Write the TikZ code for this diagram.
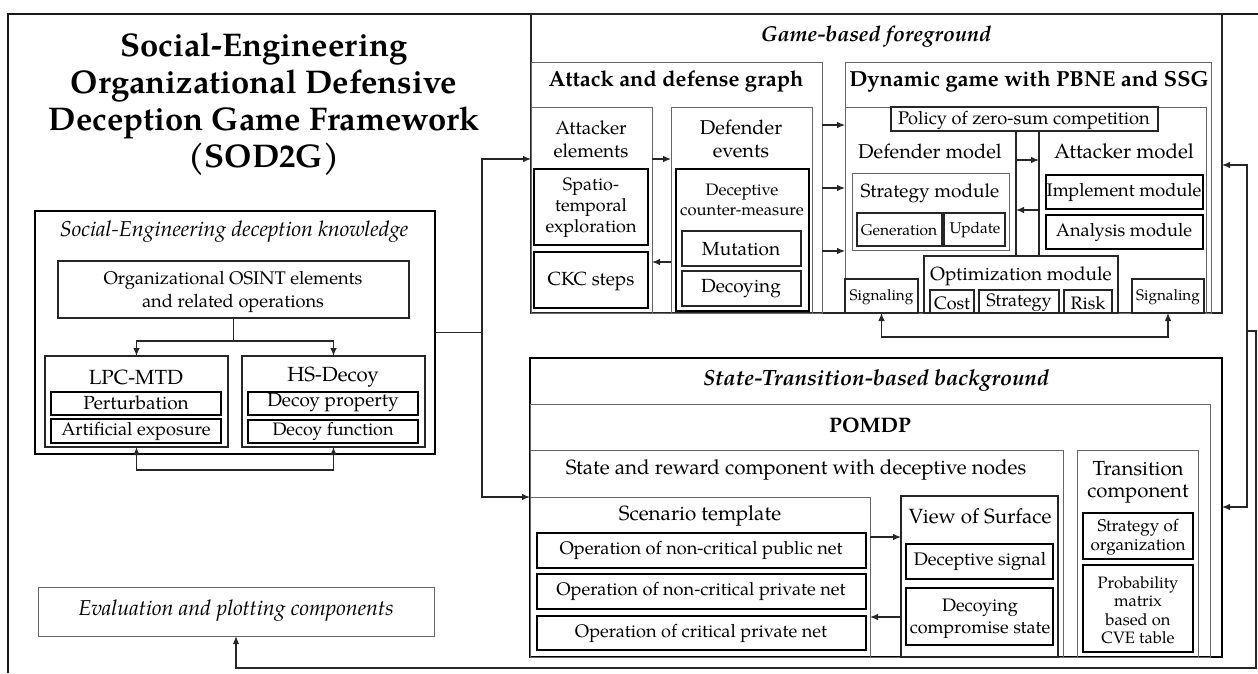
\documentclass[tikz,border=0pt]{standalone}
\usepackage{fontspec}
\IfFontExistsTF{TeX Gyre Pagella}{\setmainfont{TeX Gyre Pagella}}{\setmainfont{Liberation Serif}}
\usetikzlibrary{arrows.meta}

% font size helper
\newcommand\fsz[2]{\fontsize{#1}{#2}\selectfont}
% box from corner (x1,y1) to corner (x2,y2), y measured downwards
\newcommand\bx[6][bmid]{\node[#1, minimum width={#5-#3}, minimum height={#6-#4}] (#2) at (#3,#4) {};}

\tikzset{
  bxbase/.style={rectangle, inner sep=0pt, outer sep=0pt, anchor=north west},
  bthin/.style={bxbase, draw=black!60, line width=0.9pt},
  bmid/.style={bxbase, draw=black!85, line width=1.3pt},
  bthick/.style={bxbase, draw=black, line width=1.8pt},
  bopen/.style={bxbase},
  lbl/.style={inner sep=0pt, align=center, font=\fsz{19}{23}},
  wire/.style={draw=black!85, line width=1.1pt},
  arr/.style={wire, -{Latex[length=8pt,width=6.5pt]}},
  arrb/.style={wire, {Latex[length=8pt,width=6.5pt]}-{Latex[length=8pt,width=6.5pt]}},
}

\begin{document}
\begin{tikzpicture}[x=1pt,y=-1pt]
\useasboundingbox (0,0) rectangle (1258,673);

% outer frame (open to the right and bottom)
\coordinate (fBL) at (8,673);
\coordinate (fTL) at (8,14);
\coordinate (fTR) at (1258,14);
\draw[line width=2.2pt, black!90] (fBL) -- (fTL) -- (fTR);

% helper levels for horizontal connectors
\foreach \yy in {125,159,160,165,188,210,251,262,497,507,537,617}
  \coordinate (y\yy) at (0,\yy);

% ---------------- title ----------------
\node[lbl, font=\bfseries\fsz{32.8}{37}] (title) at (264,104)
  {Social-Engineering\\Organizational Defensive\\Deception Game Framework\\(SOD2G)};

% ---------------- deception knowledge ----------------
\bx[bthick]{know}{35}{211}{435}{454}
\node[lbl, font=\itshape\fsz{21.5}{25}] (knowT) at (234,232) {Social-Engineering deception knowledge};
\bx[bmid]{org}{58}{261}{409}{318}
\node[lbl, font=\fsz{18.3}{23}] (orgT) at (233,292) {Organizational OSINT elements\\and related operations};
\bx[bmid]{lpc}{45}{356}{228}{447}
\node[lbl, font=\fsz{20.5}{24}] (lpcT) at (136,377) {LPC-MTD};
\bx[bthick]{pert}{51}{392}{221}{415}
\node[lbl] (pertT) at (136,403) {Perturbation};
\bx[bthick]{artf}{51}{419}{221}{443}
\node[lbl, font=\fsz{18.2}{22}] (artfT) at (136,431) {Artificial exposure};
\bx[bmid]{hs}{242}{356}{425}{447}
\node[lbl, font=\fsz{20.5}{24}] (hsT) at (333,377) {HS-Decoy};
\bx[bthick]{dprop}{248}{392}{418}{415}
\node[lbl] (dpropT) at (333,403) {Decoy property};
\bx[bthick]{dfun}{248}{420}{418}{443}
\node[lbl, font=\fsz{18}{22}] (dfunT) at (333,431) {Decoy function};

\coordinate (fork) at (233.5,341);
\draw[wire] (org.south) -- (fork);
\draw[arr] (fork) -| (lpc.north);
\draw[arr] (fork) -| (hs.north);
\draw[arrb] (lpc.south) -- ++(0,23) -| (hs.south);

% ---------------- evaluation ----------------
\bx[bthin]{eval}{38}{587}{434}{636}
\node[lbl, font=\itshape\fsz{21.5}{25}] (evalT) at (236,611) {Evaluation and plotting components};

% ---------------- game-based foreground ----------------
\bx[bmid]{game}{531}{14}{1222}{313}
\node[lbl, font=\bfseries\itshape\fsz{21.6}{25}] (gameT) at (876,37) {Game-based foreground};

% attack and defense graph
\bx[bthin]{adg}{531}{62}{822}{313}
\node[lbl, font=\bfseries\fsz{21.8}{25}] (adgT) at (676,82) {Attack and defense graph};
\bx[bthin]{attel}{531}{107}{652}{313}
\node[lbl] (attelT) at (591,139) {Attacker\\elements};
\bx[bthick]{spt}{534}{169}{648}{245}
\node[lbl, font=\fsz{18}{21}] (sptT) at (591,208) {Spatio-\\temporal\\exploration};
\bx[bthick]{ckc}{534}{252}{648}{308}
\node[lbl] (ckcT) at (591,281) {CKC steps};
\bx[bthin]{defev}{671}{107}{812}{313}
\node[lbl, font=\fsz{20}{23}] (defevT) at (741,139) {Defender\\events};
\bx[bthick]{dcm}{676}{169}{809}{311}
\node[lbl, font=\fsz{16.6}{20}] (dcmT) at (742,200) {Deceptive\\counter-measure};
\bx[bmid]{mut}{682}{231}{801}{266}
\node[lbl] (mutT) at (741,249) {Mutation};
\bx[bmid]{dcy}{682}{271}{801}{306}
\node[lbl] (dcyT) at (741,289) {Decoying};

\draw[arr] (attel.east |- y159) -- (defev.west |- y159);
\draw[arr] (defev.west |- y262) -- (attel.east |- y262);

% dynamic game
\bx[bthin]{dyn}{845}{62}{1211}{313}
\node[lbl, font=\bfseries\fsz{21.8}{25}] (dynT) at (1029,82) {Dynamic game with PBNE and SSG};
\bx[bthin]{dyni}{845}{107}{1206}{313}
\bx[bmid]{pol}{891}{107}{1158}{131}
\node[lbl, font=\fsz{18.3}{21}] (polT) at (1024,120) {Policy of zero-sum competition};

\bx[bopen]{defm}{845}{131}{1016}{256}
\bx[bopen]{attm}{1039}{131}{1206}{256}
\draw[bmid] (defm.north east) -- (defm.south east);
\draw[bmid] (attm.north west) -- (attm.south west);
\node[lbl, font=\fsz{20}{23}] (defmT) at (930,151) {Defender model};
\node[lbl, font=\fsz{20.5}{23}] (attmT) at (1124,151) {Attacker model};

\bx[bthin]{stm}{852}{173}{1009}{250}
\node[lbl] (stmT) at (930,193) {Strategy module};
\bx[bmid]{gen}{857}{213}{942}{246}
\node[lbl, font=\fsz{15.5}{18}] (genT) at (899,230) {Generation};
\bx[bmid]{upd}{944}{213}{1005}{246}
\node[lbl, font=\fsz{15.5}{18}] (updT) at (975,230) {Update};

\bx[bthick]{impl}{1046}{175}{1203}{209}
\node[lbl, font=\fsz{18.2}{22}] (implT) at (1124,192) {Implement module};
\bx[bthick]{anl}{1046}{215}{1203}{249}
\node[lbl, font=\fsz{18.2}{22}] (anlT) at (1124,232) {Analysis module};

\bx[bmid]{opt}{924}{256}{1118}{313}
\node[lbl] (optT) at (1021,276) {Optimization module};
\bx[bmid]{cost}{930}{290}{974}{313}
\node[lbl, font=\fsz{18}{21}] (costT) at (952,303) {Cost};
\bx[bmid]{strat}{979}{290}{1059}{313}
\node[lbl, font=\fsz{18}{21}] (stratT) at (1019,303) {Strategy};
\bx[bmid]{risk}{1064}{290}{1112}{313}
\node[lbl, font=\fsz{18}{21}] (riskT) at (1088,303) {Risk};

\bx[bmid]{sigL}{845}{279}{918}{313}
\node[lbl, font=\fsz{15.3}{18}] (sigLT) at (881.5,297) {Signaling};
\bx[bmid]{sigR}{1132}{279}{1204}{313}
\node[lbl, font=\fsz{15.3}{18}] (sigRT) at (1168,297) {Signaling};

\draw[arr] (defm.east |- y160) -- (attm.west |- y160);
\draw[arr] (attm.west |- y210) -- (defm.east |- y210);
\draw[arr] (adg.east |- y125) -- (dyn.west |- y125);
\draw[arr] (adg.east |- y188) -- (dyn.west |- y188);
\draw[arr] (adg.east |- y251) -- (dyn.west |- y251);
\draw[arrb] (sigL.south) -- ++(0,24) -| (sigR.south);

% ---------------- state-transition background ----------------
\bx[bthick]{state}{530}{358}{1222}{657}
\node[lbl, font=\bfseries\itshape\fsz{22}{25}] (stateT) at (876,380) {State-Transition-based background};
\bx[bthin]{pomdp}{530}{404}{1210}{657}
\node[lbl, font=\bfseries\fsz{21}{25}] (pomdpT) at (870,425) {POMDP};
\bx[bthin]{sr}{530}{450}{1063}{657}
\node[lbl, font=\fsz{20.6}{24}] (srT) at (796,470) {State and reward component with deceptive nodes};

\bx[bthin]{scen}{530}{497}{870}{657}
\node[lbl, font=\fsz{20.6}{24}] (scenT) at (700,516) {Scenario template};
\bx[bthick]{op1}{537}{533}{866}{568}
\node[lbl, font=\fsz{18.2}{21}] (op1T) at (701,550) {Operation of non-critical public net};
\bx[bthick]{op2}{537}{574}{866}{609}
\node[lbl, font=\fsz{18.2}{21}] (op2T) at (701,591) {Operation of non-critical private net};
\bx[bthick]{op3}{537}{616}{866}{650}
\node[lbl, font=\fsz{18.2}{21}] (op3T) at (701,633) {Operation of critical private net};

\bx[bmid]{view}{901}{496}{1058}{657}
\node[lbl, font=\fsz{20.6}{24}] (viewT) at (980,516) {View of Surface};
\bx[bthick]{dsig}{906}{544}{1053}{579}
\node[lbl, font=\fsz{18.2}{22}] (dsigT) at (980,561) {Deceptive signal};
\bx[bthick]{dcs}{906}{588}{1053}{645}
\node[lbl, font=\fsz{18.1}{22}] (dcsT) at (980,619) {Decoying\\compromise state};

\bx[bthin]{trans}{1077}{450}{1198}{657}
\node[lbl, font=\fsz{20.4}{22}] (transT) at (1138,482) {Transition\\component};
\bx[bthick]{sorg}{1083}{513}{1193}{559}
\node[lbl, font=\fsz{17}{19}] (sorgT) at (1138,537) {Strategy of\\organization};
\bx[bthick]{prob}{1083}{565}{1193}{652}
\node[lbl, font=\fsz{16.5}{18.5}] (probT) at (1138,610) {Probability\\matrix\\based on\\CVE table};

\draw[arr] (scen.east |- y537) -- (view.west |- y537);
\draw[arr] (view.west |- y617) -- (scen.east |- y617);

% ---------------- left bus ----------------
\coordinate (busJ) at (482,332.5);
\draw[wire] (know.east) -- (busJ);
\draw[arr] (busJ) |- (attel.west |- y159);
\draw[arr] (busJ) |- (sr.west |- y497);

% ---------------- right bus and evaluation feedback ----------------
\coordinate (rbJ) at (1247,331);
\coordinate (rc1) at (1256,331);
\coordinate (rc2) at (1256,668);
\draw[arr] (rbJ) |- (game.east |- y165);
\draw[arr] (rbJ) |- (state.east |- y507);
\draw[arr, line width=1.4pt] (rbJ) -- (rc1) -- (rc2) -| (eval.south);
\end{tikzpicture}
\end{document}
